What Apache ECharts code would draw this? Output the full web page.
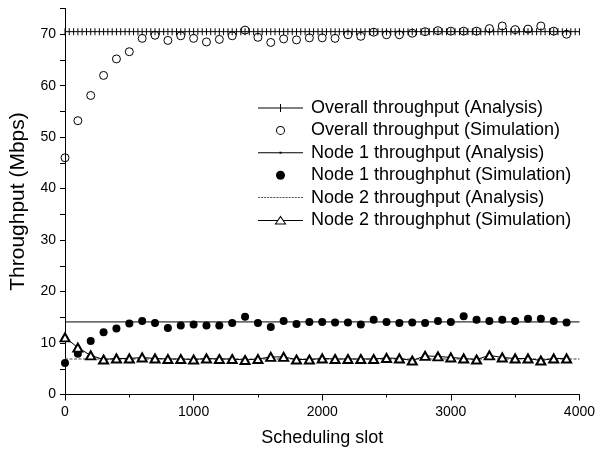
<!DOCTYPE html>
<html><head><meta charset="utf-8">
<script src="https://cdn.jsdelivr.net/npm/echarts@6/dist/echarts.min.js"></script>
<style>html,body{margin:0;padding:0;background:#fff}#c{width:598px;height:452px}</style>
</head><body><div id="c"></div>
<script>
// ---- data ----
const slots = [0,100,200,300,400,500,600,700,800,900,1000,1100,1200,1300,1400,1500,1600,1700,1800,1900,
  2000,2100,2200,2300,2400,2500,2600,2700,2800,2900,3000,3100,3200,3300,3400,3500,3600,3700,3800,3900];
const overallSim = [46,53.2,58.1,62.0,65.2,66.6,69.2,69.8,68.8,69.7,
  69.2,68.5,69.0,69.7,70.8,69.4,68.4,69.1,68.9,69.3,
  69.3,69.2,69.9,69.6,70.4,69.9,69.9,70.2,70.5,70.7,
  70.6,70.6,70.6,71.1,71.6,70.9,71.0,71.6,70.6,70.0];
const node1Sim = [6.1,7.9,10.4,12.1,12.8,13.8,14.3,13.9,12.9,13.4,
  13.6,13.4,13.4,13.9,15.1,13.9,13.1,14.3,13.7,14.1,
  14.1,14.0,14.0,13.6,14.5,14.1,13.9,14.0,13.9,14.3,
  14.1,15.2,14.5,14.3,14.5,14.3,14.7,14.7,14.3,14.0];
const node2Sim = [11.1,9.1,7.6,6.8,7.0,7.0,7.2,7.0,6.9,6.9,
  6.8,7.0,6.9,6.9,6.7,6.9,7.3,7.3,6.8,6.8,
  7.0,6.9,6.9,6.9,6.9,7.1,7.0,6.6,7.5,7.4,
  7.2,7.0,6.8,7.6,7.2,7.0,7.0,6.6,7.0,7.0];
const overallAnalysis = 70.5;
const node1Analysis = 14.1;
const node2Analysis = 6.9;
const analysisMarkerSlots = [0,33,67,100,133,167,200,233,267,300,333,367,400,433,467,500,533,567,600,633,667,
  700,733,767,800,833,867,900,933,967,1000,1033,1067,1100,1133,1167,1200,1233,1267,1300,1333,1367,
  1400,1433,1467,1500,1533,1567,1600,1633,1667,1700,1733,1767,1800,1833,1867,1900,1933,1967,2000,
  2033,2067,2100,2133,2167,2200,2233,2267,2300,2333,2367,2400,2433,2467,2500,2533,2567,2600,2633,
  2667,2700,2733,2767,2800,2833,2867,2900,2933,2967,3000,3033,3067,3100,3133,3167,3200,3233,3267,
  3300,3333,3367,3400,3433,3467,3500,3533,3567,3600,3633,3667,3700,3733,3767,3800,3833,3867,3900,
  3933,3967,4000];
const lineEnds = [0, 4000];
const seriesNames = ['Overall throughput (Analysis)','Overall throughput (Simulation)',
  'Node 1 throughput (Analysis)','Node 1 throughphut (Simulation)',
  'Node 2 throughput (Analysis)','Node 2 throughphut (Simulation)'];
const xAxisTitle = 'Scheduling slot';
const yAxisTitle = 'Throughput (Mbps)';

// ---- styles ----
const FONT = '"Liberation Sans", Arial, sans-serif';
const ICON_PLUS = 'path://M0,3.5H45V4.5H0Z M22,0H23V8H22Z';
const ICON_RING = 'path://M0,4.5A4.5,4.5 0 0,1 9,4.5A4.5,4.5 0 0,1 0,4.5Z M1,4.5A3.5,3.5 0 0,0 8,4.5A3.5,3.5 0 0,0 1,4.5Z';
const ICON_DOTLINE = 'path://M0,3.5H45V4.5H0Z M21.5,3H23.5V5H21.5Z';
let dash = 'path://';
for (let x = 0; x < 45; x += 3) dash += 'M' + x + ',0H' + (x + 2) + 'V1H' + x + 'Z ';
const ICON_DASH = dash.trim();
const ICON_TRI = 'path://M0,4.5H19.3V5.5H0Z M25.7,4.5H45V5.5H25.7Z M22.5,0L28.5,9L16.5,9Z M22.5,1.9L18.3,8.1L26.7,8.1Z';

const chart = echarts.init(document.getElementById('c'), null, {renderer: 'canvas'});
const pair = (xs, v) => xs.map(x => [x, v]);
const zipped = (ys) => slots.map((x, i) => [x, ys[i]]);

chart.setOption({
  animation: false,
  backgroundColor: '#fff',
  textStyle: {fontFamily: FONT},
  grid: {left: 63.5, right: 15.5, top: 8.5, bottom: 57.5, containLabel: false},
  legend: {
    orient: 'vertical', left: 258, top: 99, padding: 0,
    itemWidth: 45, itemHeight: 9, itemGap: 4.4,
    textStyle: {fontFamily: FONT, fontSize: 18, color: '#000', lineHeight: 18, padding: [0, 0, 0, 3]},
    selectedMode: false,
    data: [
      {name: seriesNames[0], icon: ICON_PLUS, itemStyle: {color: '#000', borderWidth: 0, opacity: 1}},
      {name: seriesNames[1], icon: ICON_RING, itemStyle: {color: '#000', borderWidth: 0, opacity: 1}},
      {name: seriesNames[2], icon: ICON_DOTLINE, itemStyle: {color: '#000', borderWidth: 0, opacity: 1}},
      {name: seriesNames[3], icon: 'circle', itemStyle: {color: '#000', borderWidth: 0, opacity: 1}},
      {name: seriesNames[4], icon: ICON_DASH, itemStyle: {color: '#555', borderWidth: 0, opacity: 1}},
      {name: seriesNames[5], icon: ICON_TRI, itemStyle: {color: '#000', borderWidth: 0, opacity: 1}}
    ]
  },
  xAxis: {
    type: 'value', min: 0, max: 4000, interval: 1000,
    name: xAxisTitle, nameLocation: 'middle', nameGap: 34.5,
    nameTextStyle: {fontFamily: FONT, fontSize: 18, color: '#000'},
    axisLine: {show: true, lineStyle: {color: '#000', width: 1}},
    axisTick: {show: true, length: 6, lineStyle: {color: '#000'}},
    minorTick: {show: true, splitNumber: 2, length: 3, lineStyle: {color: '#000'}},
    splitLine: {show: false},
    axisLabel: {fontFamily: FONT, fontSize: 14, color: '#000', margin: 11, formatter: v => String(v)}
  },
  yAxis: {
    type: 'value', min: 0, max: 75, interval: 5,
    name: yAxisTitle, nameLocation: 'middle', nameGap: 36,
    nameTextStyle: {fontFamily: FONT, fontSize: 21, color: '#000'},
    axisLine: {show: true, lineStyle: {color: '#000', width: 1}},
    axisTick: {show: true, length: 5, lineStyle: {color: '#000'}},
    splitLine: {show: false},
    axisLabel: {fontFamily: FONT, fontSize: 14, color: '#000', margin: 9,
      formatter: v => (v % 10 === 0 ? String(v) : '')}
  },
  series: [
    {name: seriesNames[0], type: 'line', data: pair(analysisMarkerSlots, overallAnalysis),
     symbol: 'rect', symbolSize: [1, 7], showAllSymbol: true,
     itemStyle: {color: '#000', borderWidth: 0, opacity: 1}, lineStyle: {color: '#000', width: 1}, z: 2},
    {name: seriesNames[1], type: 'scatter', data: zipped(overallSim),
     symbol: 'circle', symbolSize: 8,
     itemStyle: {color: 'rgba(0,0,0,0)', borderColor: '#000', borderWidth: 1, opacity: 1}, z: 3},
    {name: seriesNames[2], type: 'line', data: pair(lineEnds, node1Analysis),
     symbol: 'none', lineStyle: {color: '#000', width: 1}, z: 2},
    {name: seriesNames[3], type: 'scatter', data: zipped(node1Sim),
     symbol: 'circle', symbolSize: 8, itemStyle: {color: '#000', opacity: 1}, z: 3},
    {name: seriesNames[4], type: 'line', data: pair(lineEnds, node2Analysis),
     symbol: 'none', lineStyle: {color: '#444', width: 1, type: [3, 1.5]}, z: 2},
    {name: seriesNames[5], type: 'line', data: zipped(node2Sim),
     symbol: 'emptyTriangle', symbolSize: [9, 8], showAllSymbol: true,
     itemStyle: {color: '#000', borderColor: '#000', borderWidth: 1, opacity: 1},
     lineStyle: {color: '#000', width: 1}, z: 3}
  ]
});
</script></body></html>
